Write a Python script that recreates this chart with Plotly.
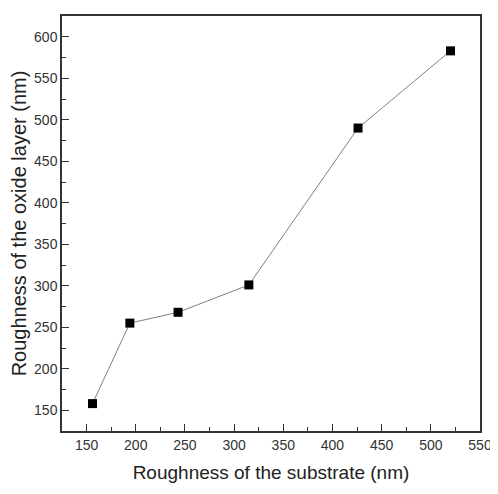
import plotly.graph_objects as go

substrate = [156, 194, 243, 315, 426, 520]
oxide = [158, 255, 268, 301, 490, 583]
x_ticks = [150, 200, 250, 300, 350, 400, 450, 500, 550]
y_ticks = [150, 200, 250, 300, 350, 400, 450, 500, 550, 600]

fig = go.Figure()
fig.add_trace(go.Scatter(
    x=substrate, y=oxide, mode="lines+markers",
    line=dict(color="#808080", width=1),
    marker=dict(symbol="square", size=9, color="black"),
    showlegend=False, cliponaxis=False,
))

font = "Liberation Sans, Arial, sans-serif"
axis_common = dict(
    showline=True, linecolor="#333", linewidth=1.5, mirror=True,
    ticks="inside", ticklen=7, tickwidth=1.2, tickcolor="#333",
    showgrid=False, zeroline=False,
    tickfont=dict(family=font, size=14, color="#333"),
)
fig.update_xaxes(
    range=[125, 550], tickvals=x_ticks,
    minor=dict(ticks="inside", ticklen=4, dtick=25, tick0=125, tickcolor="#333"),
    title=dict(text="Roughness of the substrate (nm)", font=dict(family=font, size=19, color="#222"), standoff=14),
    **axis_common,
)
fig.update_yaxes(
    range=[125, 625], tickvals=y_ticks,
    minor=dict(ticks="inside", ticklen=4, dtick=25, tick0=125, tickcolor="#333"),
    title=dict(text="Roughness of the oxide layer (nm)", font=dict(family=font, size=20, color="#222"), standoff=6),
    **axis_common,
)
fig.update_layout(
    width=490, height=478,
    margin=dict(l=54, r=13, t=6, b=54),
    plot_bgcolor="white", paper_bgcolor="white",
)
fig.write_html("out.html", config={"displayModeBar": False})
